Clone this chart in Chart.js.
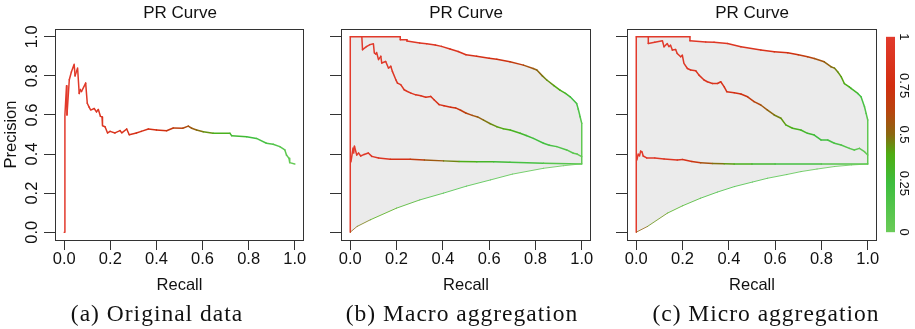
<!DOCTYPE html>
<html><head><meta charset="utf-8">
<script src="https://cdn.jsdelivr.net/npm/chart.js@4.4.1/dist/chart.umd.min.js"></script>
<style>
html,body{margin:0;padding:0;background:#fff;}
#wrap{position:relative;width:915px;height:329px;overflow:hidden;background:#fff;}
canvas{position:absolute;top:0;}
.title{position:absolute;top:3px;font-size:17px;font-family:'Liberation Sans',Arial,sans-serif;color:#111;transform:translateX(-50%);white-space:nowrap;line-height:20px;}
.cap{position:absolute;top:299px;font-size:23.5px;font-family:'Liberation Serif','Times New Roman',serif;letter-spacing:1px;color:#111;transform:translateX(-50%);white-space:nowrap;line-height:28px;}
</style></head>
<body><div id="wrap">
<canvas id="ca" width="310" height="329" style="left:0"></canvas>
<canvas id="cb" width="290" height="329" style="left:310px"></canvas>
<canvas id="cc" width="315" height="329" style="left:600px"></canvas>
<div class="title" style="left:180px">PR Curve</div>
<div class="title" style="left:466px">PR Curve</div>
<div class="title" style="left:752px">PR Curve</div>
<div class="cap" style="left:157px">(a) Original data</div>
<div class="cap" style="left:462px">(b) Macro aggregation</div>
<div class="cap" style="left:766px">(c) Micro aggregation</div>
</div>
<script>
// ---------- tick labels ----------
const xTicks = [0, 0.2, 0.4, 0.6, 0.8, 1.0];
const yTicks = [0, 0.2, 0.4, 0.6, 0.8, 1.0];
const colorbarTicks = [0, 0.25, 0.5, 0.75, 1];
const colorbarLabels = ['0', '0.25', '0.5', '0.75', '1'];

// ---------- (a) original data ----------
const aRecall = [0,0.003,0.010,0.012,0.022,0.031,0.043,0.047,0.058,0.065,0.070,0.075,0.093,0.100,0.108,0.115,0.130,0.140,0.148,0.157,0.164,0.166,0.177,0.188,0.199,0.220,0.242,0.250,0.271,0.282,0.313,0.334,0.365,0.400,0.444,0.473,0.514,0.538,0.553,0.574,0.603,0.646,0.719,0.726,0.791,0.834,0.877,0.906,0.935,0.957,0.964,0.975,0.978,1.000];
const aPrecision = [0,0.60,0.75,0.60,0.78,0.82,0.86,0.80,0.84,0.71,0.73,0.72,0.763,0.66,0.64,0.625,0.633,0.616,0.628,0.593,0.59,0.545,0.54,0.508,0.516,0.508,0.52,0.508,0.528,0.499,0.508,0.516,0.528,0.523,0.519,0.533,0.532,0.543,0.532,0.523,0.514,0.506,0.506,0.494,0.489,0.48,0.455,0.45,0.438,0.421,0.395,0.378,0.356,0.349];
const aScore = [1,1,1,1,0.99,0.99,0.98,0.98,0.97,0.97,0.96,0.96,0.95,0.95,0.94,0.94,0.93,0.92,0.92,0.91,0.91,0.90,0.90,0.89,0.88,0.87,0.86,0.86,0.85,0.84,0.83,0.82,0.80,0.78,0.72,0.67,0.62,0.58,0.55,0.51,0.47,0.40,0.32,0.31,0.26,0.22,0.17,0.14,0.11,0.08,0.07,0.05,0.04,0.0];

// ---------- (b) macro aggregation ----------
const bUpperRecall = [0,0,0.216,0.216,0.245,0.245,0.30,0.33,0.367,0.394,0.431,0.466,0.50,0.546,0.60,0.633,0.69,0.748,0.79,0.806,0.83,0.849,0.88,0.906,0.93,0.95,0.978,0.985,0.993,1.0,1.0];
const bUpperPrecision = [0,1,1,0.985,0.985,0.978,0.968,0.965,0.958,0.951,0.938,0.925,0.908,0.90,0.89,0.885,0.872,0.855,0.838,0.83,0.80,0.779,0.75,0.727,0.71,0.693,0.659,0.63,0.591,0.557,0.35];
const bUpperScore = [1,1,0.97,0.97,0.96,0.96,0.94,0.93,0.92,0.91,0.89,0.87,0.85,0.82,0.78,0.75,0.71,0.61,0.54,0.52,0.48,0.45,0.42,0.39,0.33,0.28,0.22,0.18,0.14,0.1,0.0];

const bMidRecall = [0.05,0.053,0.07,0.085,0.10,0.104,0.11,0.114,0.122,0.132,0.136,0.153,0.165,0.175,0.182,0.197,0.204,0.218,0.233,0.247,0.262,0.283,0.305,0.326,0.348,0.362,0.384,0.405,0.434,0.455,0.477,0.499,0.527,0.55,0.576,0.605,0.633,0.66,0.691,0.734,0.76,0.791,0.835,0.86,0.892,0.935,0.964,0.98,1.0];
const bMidPrecision = [1.0,0.934,0.95,0.96,0.964,0.917,0.912,0.92,0.883,0.90,0.866,0.874,0.84,0.849,0.823,0.78,0.763,0.755,0.729,0.72,0.712,0.703,0.698,0.691,0.695,0.678,0.653,0.647,0.64,0.636,0.624,0.61,0.598,0.59,0.574,0.555,0.54,0.53,0.523,0.506,0.495,0.48,0.455,0.445,0.438,0.421,0.404,0.40,0.387];
const bMidScore = [1,1,0.99,0.99,0.98,0.98,0.98,0.97,0.97,0.97,0.96,0.96,0.95,0.95,0.94,0.93,0.93,0.92,0.91,0.90,0.90,0.89,0.88,0.87,0.86,0.85,0.84,0.82,0.78,0.74,0.69,0.64,0.58,0.54,0.5,0.46,0.43,0.40,0.37,0.32,0.29,0.26,0.22,0.2,0.17,0.12,0.08,0.06,0.03];

const bLowRecall = [0.003,0.008,0.012,0.015,0.018,0.028,0.036,0.045,0.06,0.078,0.093,0.122,0.173,0.259,0.32,0.403,0.47,0.547,0.62,0.69,0.835,1.0];
const bLowPrecision = [0.36,0.40,0.431,0.405,0.44,0.395,0.405,0.39,0.398,0.405,0.388,0.38,0.373,0.373,0.37,0.365,0.362,0.361,0.36,0.358,0.353,0.349];
const bLowScore = [1,1,1,1,1,0.99,0.99,0.98,0.97,0.96,0.95,0.93,0.9,0.72,0.6,0.5,0.42,0.35,0.3,0.25,0.15,0.05];

const bMinRecall = [0,0.029,0.086,0.2,0.3,0.403,0.5,0.604,0.7,0.835,0.92,1.0];
const bMinPrecision = [0,0.029,0.063,0.123,0.165,0.2,0.235,0.267,0.297,0.327,0.34,0.35];
const bMinScore = [0.55,0.5,0.44,0.36,0.3,0.25,0.21,0.17,0.13,0.08,0.04,0.0];

// ---------- (c) micro aggregation ----------
const cUpperRecall = [0,0,0.232,0.232,0.30,0.336,0.394,0.452,0.538,0.596,0.654,0.70,0.74,0.769,0.812,0.841,0.856,0.87,0.885,0.899,0.92,0.928,0.957,0.971,0.986,0.993,1.0,1.0];
const cUpperPrecision = [0,1,1,0.98,0.974,0.972,0.966,0.949,0.932,0.923,0.918,0.908,0.898,0.889,0.872,0.847,0.84,0.821,0.796,0.761,0.744,0.736,0.71,0.693,0.642,0.608,0.574,0.349];
const cUpperScore = [1,1,0.97,0.97,0.95,0.94,0.92,0.9,0.86,0.82,0.76,0.7,0.64,0.6,0.54,0.5,0.48,0.45,0.42,0.4,0.36,0.34,0.27,0.22,0.17,0.13,0.1,0.0];

const cMidRecall = [0.052,0.052,0.08,0.113,0.12,0.134,0.141,0.148,0.156,0.17,0.177,0.192,0.199,0.206,0.221,0.235,0.257,0.271,0.293,0.307,0.329,0.351,0.365,0.38,0.391,0.423,0.452,0.481,0.509,0.538,0.567,0.596,0.625,0.646,0.675,0.711,0.74,0.769,0.798,0.827,0.856,0.885,0.921,0.942,0.964,0.986,1.0];
const cMidPrecision = [1.0,0.966,0.972,0.98,0.949,0.966,0.949,0.957,0.932,0.935,0.915,0.898,0.906,0.864,0.838,0.83,0.826,0.804,0.779,0.77,0.761,0.761,0.77,0.744,0.719,0.714,0.707,0.693,0.668,0.651,0.625,0.6,0.583,0.549,0.532,0.523,0.506,0.497,0.472,0.472,0.455,0.446,0.429,0.421,0.429,0.412,0.395];
const cMidScore = [1,1,0.99,0.98,0.98,0.97,0.97,0.97,0.96,0.96,0.95,0.95,0.94,0.94,0.93,0.92,0.91,0.9,0.89,0.88,0.87,0.86,0.85,0.84,0.83,0.8,0.76,0.7,0.64,0.58,0.53,0.48,0.45,0.41,0.37,0.33,0.3,0.27,0.24,0.21,0.18,0.15,0.11,0.09,0.07,0.04,0.02];

const cLowRecall = [0.003,0.008,0.014,0.019,0.025,0.03,0.045,0.08,0.12,0.177,0.2,0.24,0.278,0.33,0.38,0.423,0.5,0.6,0.8,1.0];
const cLowPrecision = [0.37,0.40,0.39,0.415,0.41,0.39,0.38,0.38,0.375,0.37,0.372,0.362,0.355,0.352,0.35,0.349,0.349,0.349,0.349,0.349];
const cLowScore = [1,1,1,1,0.99,0.99,0.98,0.96,0.94,0.9,0.86,0.78,0.62,0.52,0.45,0.4,0.33,0.27,0.15,0.05];

const cMinRecall = [0,0.048,0.134,0.2,0.278,0.35,0.423,0.5,0.567,0.65,0.711,0.78,0.856,0.93,1.0];
const cMinPrecision = [0,0.029,0.097,0.135,0.174,0.205,0.233,0.256,0.276,0.295,0.31,0.323,0.336,0.344,0.349];
const cMinScore = [0.55,0.48,0.4,0.34,0.29,0.25,0.21,0.18,0.15,0.12,0.1,0.08,0.05,0.03,0.0];

// ---------- colour scale (score -> colour) ----------
const colorStops = [0, 0.25, 0.4, 0.5, 0.62, 0.75, 1];
const colorStopRGB = [[106,203,88],[62,190,62],[78,172,18],[138,104,16],[184,68,14],[210,46,16],[226,58,44]];
function colorFor(s) {
  s = Math.max(0, Math.min(1, s));
  for (let i = 1; i < colorStops.length; i++) {
    if (s <= colorStops[i]) {
      const t = (s - colorStops[i-1]) / (colorStops[i] - colorStops[i-1]);
      const a = colorStopRGB[i-1], b = colorStopRGB[i];
      return 'rgb(' + a.map((v, k) => Math.round(v + (b[k] - v) * t)).join(',') + ')';
    }
  }
  const c = colorStopRGB[colorStopRGB.length - 1];
  return 'rgb(' + c.join(',') + ')';
}

const FONT = "'Liberation Sans', Arial, sans-serif";
const pts = (rx, py) => rx.map((r, i) => ({x: r, y: py[i]}));

function curve(rx, py, sc, width, alpha) {
  return {
    data: pts(rx, py), borderWidth: width, pointRadius: 0, fill: false, tension: 0, order: 0,
    borderColor: colorFor(sc[0]), borderJoinStyle: 'round', borderCapStyle: 'round',
    segment: { borderColor: c => colorFor((sc[c.p0DataIndex] + sc[c.p1DataIndex]) / 2) },
    ...(alpha ? {} : {})
  };
}
function shade(ux, uy, lx, ly) {
  const poly = pts(ux, uy).concat(pts(lx, ly).reverse());
  return { data: poly, fill: 'shape', backgroundColor: '#ebebeb', borderColor: 'rgba(0,0,0,0)',
           borderWidth: 0, pointRadius: 0, tension: 0, order: 10 };
}

const boxPlugin = {
  id: 'box',
  afterDraw(chart) {
    const a = chart.chartArea, ctx = chart.ctx;
    ctx.save();
    ctx.strokeStyle = '#333'; ctx.lineWidth = 1;
    const l = Math.round(a.left) + 0.5, t = Math.round(a.top) + 0.5;
    const r = Math.round(a.right) - 0.5, b = Math.round(a.bottom) + 0.5;
    ctx.strokeRect(l, t, r - l, b - t);
    ctx.restore();
  }
};
const yLabelPlugin = {
  id: 'ylabels',
  afterDraw(chart) {
    const ctx = chart.ctx, ys = chart.scales.y;
    ctx.save();
    ctx.fillStyle = '#111';
    ctx.font = '16.5px ' + FONT;
    ctx.textAlign = 'center'; ctx.textBaseline = 'middle';
    yTicks.forEach(v => {
      ctx.save();
      ctx.translate(32, ys.getPixelForValue(v));
      ctx.rotate(-Math.PI / 2);
      ctx.fillText(v.toFixed(1), 0, 0);
      ctx.restore();
    });
    ctx.restore();
  }
};
const colorbarPlugin = {
  id: 'colorbar',
  afterDraw(chart) {
    const ctx = chart.ctx, ys = chart.scales.y;
    const y0 = ys.getPixelForValue(0), y1 = ys.getPixelForValue(1);
    const x0 = 286, x1 = 295;
    const g = ctx.createLinearGradient(0, y0, 0, y1);
    colorStops.forEach((s, i) => g.addColorStop(s, 'rgb(' + colorStopRGB[i].join(',') + ')'));
    ctx.save();
    ctx.fillStyle = g;
    ctx.fillRect(x0, y1, x1 - x0, y0 - y1);
    ctx.fillStyle = '#111';
    ctx.font = '13px ' + FONT;
    ctx.textAlign = 'center'; ctx.textBaseline = 'middle';
    colorbarTicks.forEach((v, i) => {
      ctx.save();
      ctx.translate(304, ys.getPixelForValue(v));
      ctx.rotate(Math.PI / 2);
      ctx.fillText(colorbarLabels[i], 0, 0);
      ctx.restore();
    });
    ctx.restore();
  }
};

function makeChart(id, datasets, yWidth, padRight, withYLabels, extraPlugins) {
  new Chart(document.getElementById(id), {
    type: 'line',
    data: { datasets },
    options: {
      responsive: false, animation: false, events: [],
      layout: { padding: { top: 29, right: padRight, bottom: 0, left: 0 } },
      plugins: { legend: { display: false }, tooltip: { enabled: false }, title: { display: false } },
      scales: {
        x: {
          type: 'linear', min: -0.04, max: 1.04,
          afterBuildTicks: s => { s.ticks = xTicks.map(v => ({ value: v })); },
          afterFit: s => { s.height = 89; },
          ticks: { padding: 0, maxRotation: 0, minRotation: 0, color: '#111',
                   font: { family: FONT, size: 16.5 }, callback: v => Number(v).toFixed(1) },
          grid: { drawOnChartArea: false, drawTicks: true, tickLength: 10, color: '#333', lineWidth: 1 },
          border: { display: false },
          title: { display: true, text: 'Recall', color: '#111', font: { family: FONT, size: 16.5 },
                   padding: { top: 0, bottom: 34 } }
        },
        y: {
          type: 'linear', min: -0.04, max: 1.04,
          afterBuildTicks: s => { s.ticks = yTicks.map(v => ({ value: v })); },
          afterFit: s => { s.width = yWidth; },
          ticks: { display: false },
          grid: { drawOnChartArea: false, drawTicks: true, tickLength: 11, color: '#333', lineWidth: 1 },
          border: { display: false },
          title: { display: withYLabels, text: 'Precision', color: '#111', font: { family: FONT, size: 16.5 },
                   padding: { top: 1.6, bottom: 0 } }
        }
      }
    },
    plugins: [boxPlugin].concat(withYLabels ? [yLabelPlugin] : []).concat(extraPlugins || [])
  });
}

makeChart('ca', [ curve(aRecall, aPrecision, aScore, 1.5) ], 55, 6, true);

makeChart('cb', [
  shade(bUpperRecall, bUpperPrecision, bMinRecall, bMinPrecision),
  curve(bMinRecall, bMinPrecision, bMinScore, 0.8),
  curve(bLowRecall, bLowPrecision, bLowScore, 1.5),
  curve(bMidRecall, bMidPrecision, bMidScore, 1.5),
  curve(bUpperRecall, bUpperPrecision, bUpperScore, 1.5)
], 31, 9, false);

makeChart('cc', [
  shade(cUpperRecall, cUpperPrecision, cMinRecall, cMinPrecision),
  curve(cMinRecall, cMinPrecision, cMinScore, 0.8),
  curve(cLowRecall, cLowPrecision, cLowScore, 1.5),
  curve(cMidRecall, cMidPrecision, cMidScore, 1.5),
  curve(cUpperRecall, cUpperPrecision, cUpperScore, 1.5)
], 27, 38, false, [colorbarPlugin]);
</script>
</body></html>
